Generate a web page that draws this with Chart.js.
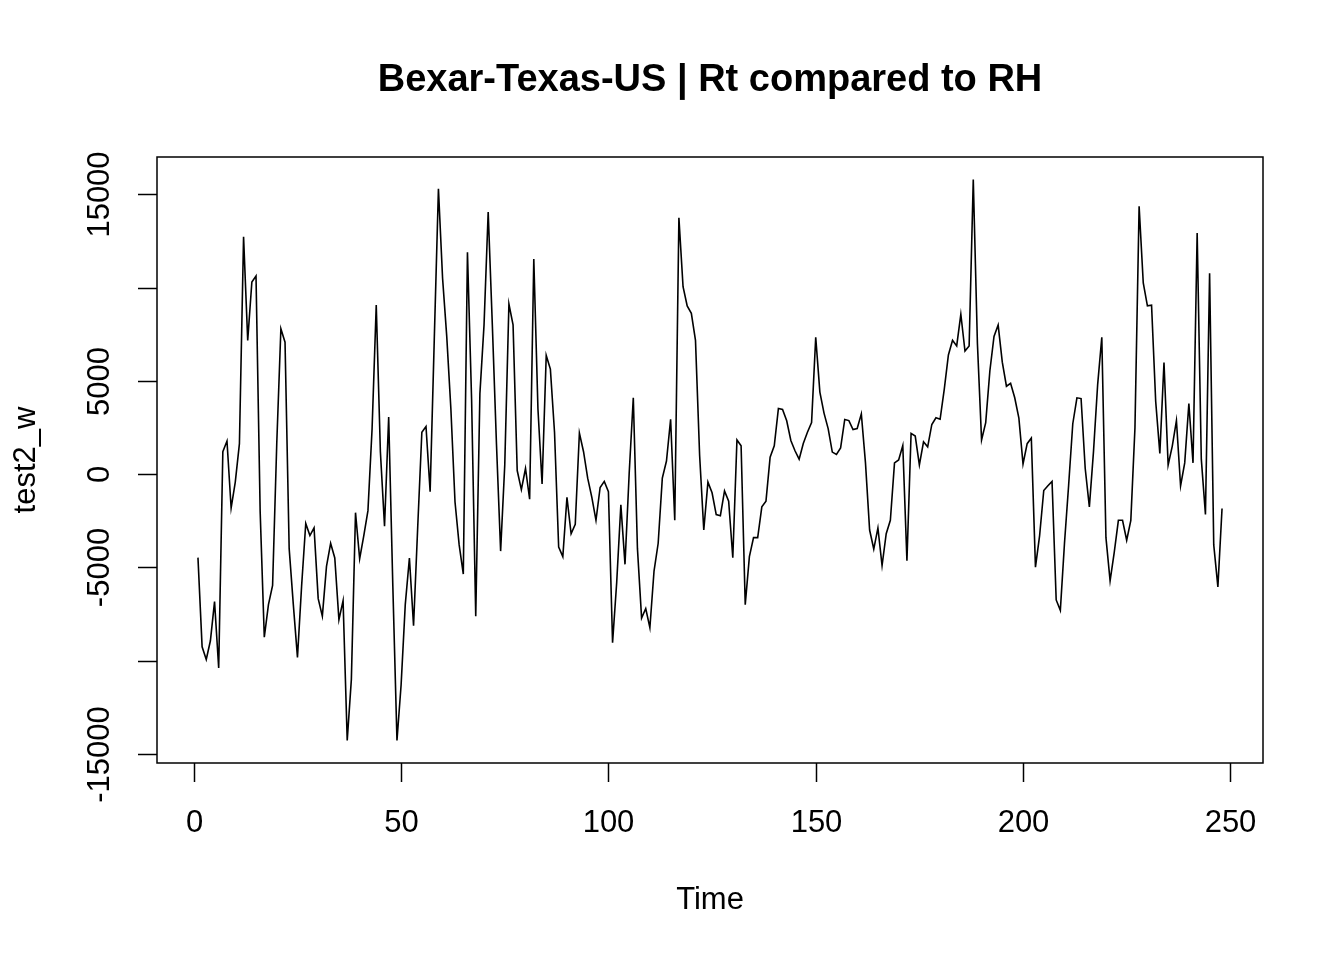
<!DOCTYPE html>
<html>
<head>
<meta charset="utf-8">
<title>Bexar-Texas-US | Rt compared to RH</title>
<script src="https://cdn.jsdelivr.net/npm/chart.js@4.4.1/dist/chart.umd.min.js"></script>
<style>
  html, body { margin: 0; padding: 0; background: #fff; }
  canvas { display: block; }
</style>
</head>
<body>
<canvas id="chart" width="1344" height="960"></canvas>
<script>
// --- Data (time index 1..248) ---
const test2W = [
  -4480, -9260, -9940, -8940, -6840, -10400, 1200, 1770, -1820, -430,
  1630, 12720, 7160, 10300, 10620, -2000, -8750, -7000, -5970, 1600,
  7790, 7070, -4000, -7000, -9830, -6000, -2650, -3300, -2890, -6680,
  -7620, -4950, -3710, -4500, -7810, -6790, -14290, -11010, -2070, -4540,
  -3300, -1960, 2440, 9060, 1200, -2790, 3060, -6000, -14290, -11300,
  -7000, -4500, -8130, -2850, 2240, 2550, -940, 7250, 15300, 10500,
  7400, 3500, -1500, -3800, -5360, 11900, 4000, -7620, 4300, 8000,
  14050, 8000, 1600, -4130, 500, 9120, 8000, 190, -830, 300,
  -1350, 11530, 3500, -530, 6360, 5630, 2240, -3920, -4430, -1250,
  -3200, -2690, 2200, 1200, -220, -1250, -2480, -720, -390, -940,
  -9040, -5800, -1650, -4840, 0, 4090, -4000, -7720, -7210, -8240,
  -5200, -3710, -220, 700, 2940, -2480, 13750, 10050, 9020, 8620,
  7170, 1000, -3000, -430, -1000, -2170, -2230, -900, -1460, -4490,
  1830, 1520, -7000, -4430, -3410, -3410, -1760, -1450, 900, 1520,
  3520, 3470, 2860, 1800, 1250, 800, 1640, 2240, 2760, 7340,
  4400, 3270, 2440, 1180, 1050, 1400, 2930, 2870, 2390, 2440,
  3230, 600, -3000, -4020, -2890, -4910, -3200, -2480, 600, 760,
  1530, -4640, 2180, 2040, 490, 1730, 1460, 2660, 3020, 2940,
  4540, 6390, 7170, 6870, 8570, 6600, 6870, 15800, 7000, 1830,
  2760, 5530, 7380, 7990, 6000, 4710, 4870, 4090, 3000, 540,
  1630, 1930, -4990, -3300, -880, -630, -390, -6750, -7310, -3710,
  -600, 2700, 4090, 4050, 300, -1760, 1220, 4800, 7340, -3410,
  -5730, -4200, -2480, -2480, -3550, -2480, 2500, 14360, 10250, 9020,
  9060, 3890, 1110, 5980, 490, 1500, 2870, -630, 600, 3780,
  600, 12930, 800, -2170, 10770, -3800, -6050, -1850
];
const timeIdx = test2W.map((_, i) => i + 1);

const xTicks = [0, 50, 100, 150, 200, 250];
const yTicks = [-15000, -10000, -5000, 0, 5000, 10000, 15000];
const yTickLabels = ['-15000', '', '-5000', '0', '5000', '', '15000'];

const titleText = 'Bexar-Texas-US | Rt compared to RH';
const xTitle = 'Time';
const yTitle = 'test2_w';

const FONT = '"Liberation Sans", Arial, Helvetica, sans-serif';

// R-style frame, ticks and labels, drawn from the chart's own scales
const baseGraphics = {
  id: 'baseGraphics',
  afterDraw(chart) {
    const { ctx, chartArea: a, scales: { x, y } } = chart;
    const tick = 19;
    ctx.save();
    ctx.strokeStyle = '#000';
    ctx.fillStyle = '#000';
    ctx.lineWidth = 1.5;

    // box
    ctx.strokeRect(a.left, a.top, a.right - a.left, a.bottom - a.top);

    // x axis ticks + labels
    ctx.font = '31px ' + FONT;
    ctx.textAlign = 'center';
    ctx.textBaseline = 'middle';
    xTicks.forEach(v => {
      const px = Math.round(x.getPixelForValue(v)) + 0.5;
      ctx.beginPath();
      ctx.moveTo(px, a.bottom);
      ctx.lineTo(px, a.bottom + tick);
      ctx.stroke();
      ctx.fillText(String(v), px, a.bottom + 60);
    });

    // y axis ticks + rotated labels
    yTicks.forEach((v, i) => {
      const py = Math.round(y.getPixelForValue(v)) + 0.5;
      ctx.beginPath();
      ctx.moveTo(a.left, py);
      ctx.lineTo(a.left - tick, py);
      ctx.stroke();
      if (yTickLabels[i]) {
        ctx.save();
        ctx.translate(a.left - 57, py);
        ctx.rotate(-Math.PI / 2);
        ctx.fillText(yTickLabels[i], 0, 0);
        ctx.restore();
      }
    });

    // axis titles
    const cx = (a.left + a.right) / 2;
    const cy = (a.top + a.bottom) / 2;
    ctx.fillText(xTitle, cx, a.bottom + 137);
    ctx.save();
    ctx.translate(a.left - 131, cy);
    ctx.rotate(-Math.PI / 2);
    ctx.fillText(yTitle, 0, 0);
    ctx.restore();

    // main title
    ctx.font = 'bold 38px ' + FONT;
    ctx.fillText(titleText, cx, 81);
    ctx.restore();
  }
};

new Chart(document.getElementById('chart').getContext('2d'), {
  type: 'line',
  data: {
    labels: timeIdx,
    datasets: [{
      label: yTitle,
      data: timeIdx.map((t, i) => ({ x: t, y: test2W[i] })),
      borderColor: '#000',
      borderWidth: 1.6,
      pointRadius: 0,
      tension: 0,
      fill: false
    }]
  },
  options: {
    responsive: false,
    devicePixelRatio: 1,
    animation: false,
    layout: { padding: { left: 157, top: 157, right: 81, bottom: 197 } },
    scales: {
      x: { type: 'linear', min: -8.88, max: 257.88, display: false },
      y: { type: 'linear', min: -15494, max: 17004, display: false }
    },
    plugins: {
      legend: { display: false },
      tooltip: { enabled: false },
      title: { display: false }
    }
  },
  plugins: [baseGraphics]
});
</script>
</body>
</html>
